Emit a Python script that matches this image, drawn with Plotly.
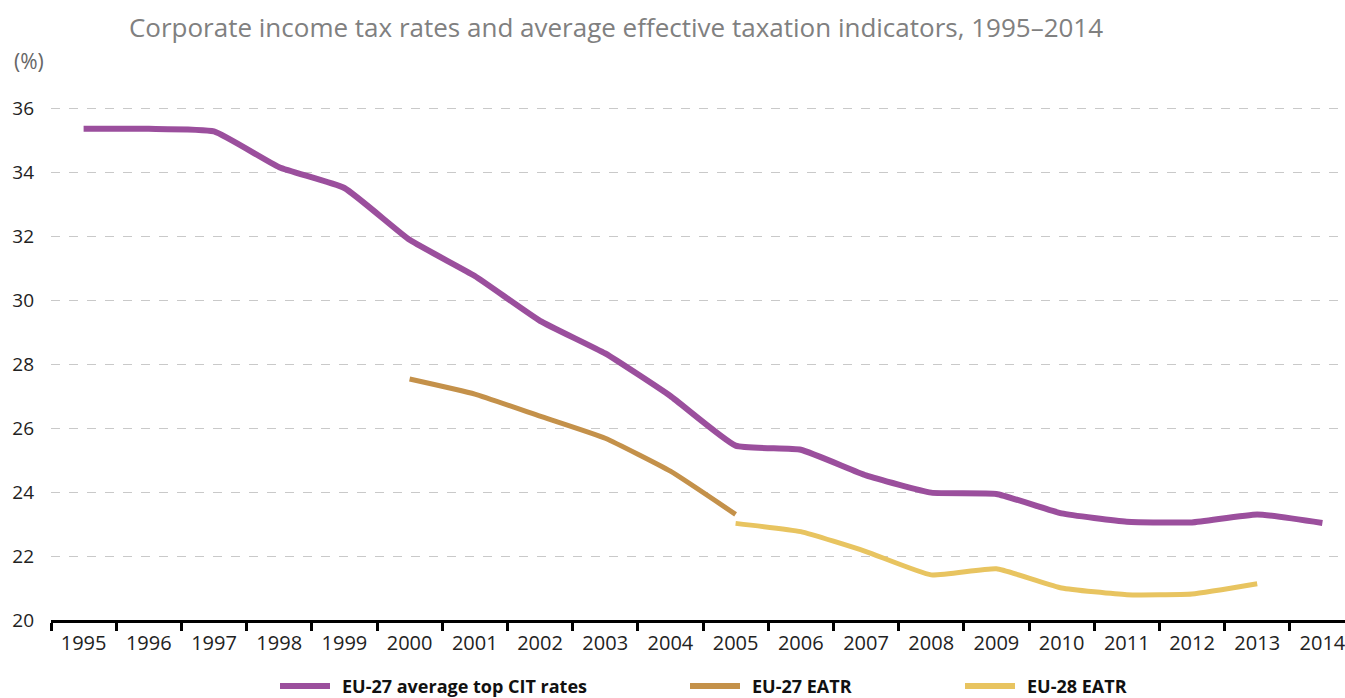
import plotly.graph_objects as go

# Years on the category axis
years = [str(y) for y in range(1995, 2015)]

# EU-27 average top statutory CIT rates (%)
cit_eu27 = [35.35, 35.35, 35.27, 34.15, 33.5, 31.88, 30.75, 29.35, 28.33, 27.0,
            25.45, 25.32, 24.52, 23.98, 23.94, 23.33, 23.07, 23.05, 23.3, 23.03]

# EU-27 effective average tax rate (%), 2000-2005
eatr_eu27_years = [str(y) for y in range(2000, 2006)]
eatr_eu27 = [27.53, 27.06, 26.37, 25.68, 24.65, 23.3]

# EU-28 effective average tax rate (%), 2005-2013
eatr_eu28_years = [str(y) for y in range(2005, 2014)]
eatr_eu28 = [23.02, 22.76, 22.14, 21.41, 21.6, 21.0, 20.79, 20.81, 21.13]

series_names = ["EU-27 average top CIT rates", "EU-27 EATR", "EU-28 EATR"]

PURPLE = "#9b4f9d"
BROWN = "#c4914a"
YELLOW = "#e8c460"
FONT = "Open Sans"

W, H = 1345, 698
ML, MR, MT, MB = 51, 0, 92, 78

fig = go.Figure()

fig.add_trace(go.Scatter(
    x=years, y=cit_eu27, mode="lines", name=series_names[0],
    line=dict(color=PURPLE, width=6, shape="spline", smoothing=0.4),
))
fig.add_trace(go.Scatter(
    x=eatr_eu27_years, y=eatr_eu27, mode="lines", name=series_names[1],
    line=dict(color=BROWN, width=5, shape="spline", smoothing=0.4),
))
fig.add_trace(go.Scatter(
    x=eatr_eu28_years, y=eatr_eu28, mode="lines", name=series_names[2],
    line=dict(color=YELLOW, width=5, shape="spline", smoothing=0.4),
))

plot_w = W - ML - MR
plot_h = H - MT - MB


def px_x(px):
    return (px - ML) / plot_w


def px_y(py):
    return (H - MB - py) / plot_h


# Legend row below the axis: a short colour bar followed by the bold series name
legend_y = px_y(686)
legend_keys = [(280, PURPLE), (690, BROWN), (965, YELLOW)]
shapes = []
annotations = []
for name, (x0, color) in zip(series_names, legend_keys):
    shapes.append(dict(
        type="line", xref="paper", yref="paper",
        x0=px_x(x0), x1=px_x(x0 + 50), y0=legend_y, y1=legend_y,
        line=dict(color=color, width=6),
    ))
    annotations.append(dict(
        text=name, xref="paper", yref="paper",
        x=px_x(x0 + 60), y=legend_y, xanchor="left", yanchor="middle",
        showarrow=False,
        font=dict(family=FONT, size=18, color="#111111", weight="bold"),
    ))

annotations.append(dict(
    text="(%)", xref="paper", yref="paper",
    x=px_x(12), y=px_y(61), xanchor="left", yanchor="middle",
    showarrow=False, font=dict(family=FONT, size=21, color="#666666"),
))

fig.update_layout(
    width=W, height=H,
    margin=dict(l=ML, r=MR, t=MT, b=MB),
    paper_bgcolor="white", plot_bgcolor="white",
    font=dict(family=FONT, color="#222222"),
    title=dict(
        text="Corporate income tax rates and average effective taxation indicators, 1995–2014",
        font=dict(family=FONT, size=26, color="#808080"),
        x=616 / W, xref="container", xanchor="center",
        y=1 - 28 / H, yref="container", yanchor="middle",
    ),
    showlegend=False,
    xaxis=dict(
        type="category", categoryorder="array", categoryarray=years,
        range=[-0.5, -0.5 + plot_w / 65.2],
        tickson="boundaries", ticks="outside", ticklen=8, tickwidth=3,
        tickcolor="black", showline=True, linewidth=3, linecolor="black",
        showgrid=False, ticklabelstandoff=3,
        tickfont=dict(family=FONT, size=20, color="#222222"),
        fixedrange=True,
    ),
    yaxis=dict(
        range=[20, 36.5], tick0=20, dtick=2, showgrid=True,
        gridcolor="#c9c9c9", griddash="dash", gridwidth=1,
        zeroline=False, showline=False, ticks="",
        ticklabelstandoff=16,
        tickfont=dict(family=FONT, size=19, color="#222222"),
        fixedrange=True,
    ),
    shapes=shapes,
    annotations=annotations,
)

fig.write_html("out.html", config={"displayModeBar": False})
